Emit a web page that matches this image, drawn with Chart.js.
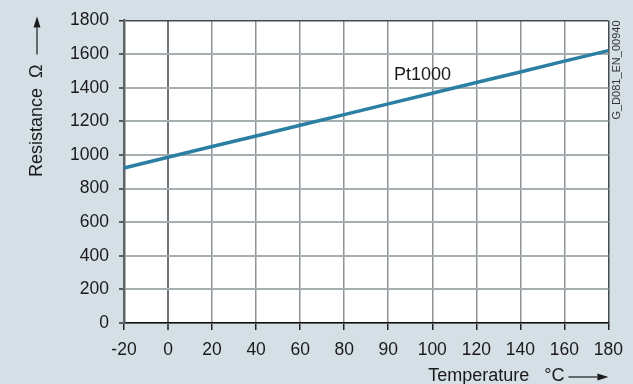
<!DOCTYPE html>
<html>
<head>
<meta charset="utf-8">
<script src="https://cdn.jsdelivr.net/npm/chart.js@4"></script>
<style>
  html, body { margin: 0; padding: 0; background: #d5e0e6; }
</style>
</head>
<body>
<canvas id="ptChart" width="633" height="384"></canvas>
<script>
const tempLabels = ['-20', '0', '20', '40', '60', '80', '90', '100', '120', '140', '160', '180'];
const resistance = [922, 986, 1050, 1113, 1177, 1240, 1304, 1367, 1431, 1494, 1558, 1621];
const yMin = 0;
const yMax = 1800;
const yStep = 200;

const FONT = '"Liberation Sans", Arial, sans-serif';
const TEXT = '#1a1a1a';

function drawArrow(ctx, x1, y1, x2, y2) {
    const ang = Math.atan2(y2 - y1, x2 - x1);
    const len = 11, half = 3.5;
    ctx.beginPath();
    ctx.moveTo(x1, y1);
    ctx.lineTo(x2 - Math.cos(ang) * len, y2 - Math.sin(ang) * len);
    ctx.lineWidth = 1.2;
    ctx.stroke();
    ctx.beginPath();
    ctx.moveTo(x2, y2);
    ctx.lineTo(x2 - Math.cos(ang) * len - Math.sin(ang) * half, y2 - Math.sin(ang) * len + Math.cos(ang) * half);
    ctx.lineTo(x2 - Math.cos(ang) * len + Math.sin(ang) * half, y2 - Math.sin(ang) * len - Math.cos(ang) * half);
    ctx.closePath();
    ctx.fill();
}

// white plot area, labels and arrows
const decor = {
    id: 'decor',
    beforeDraw(chart) {
        const { ctx, chartArea: a } = chart;
        ctx.save();
        ctx.fillStyle = '#ffffff';
        ctx.fillRect(a.left, a.top, a.right - a.left, a.bottom - a.top);
        ctx.restore();
    },
    afterDraw(chart) {
        const { ctx, chartArea: a, scales } = chart;
        ctx.save();
        ctx.fillStyle = TEXT;
        ctx.strokeStyle = TEXT;

        // curve label
        ctx.font = '18px ' + FONT;
        ctx.textAlign = 'center';
        ctx.textBaseline = 'middle';
        ctx.fillText('Pt1000', scales.x.getPixelForValue(6.78), scales.y.getPixelForValue(1475));

        // x axis title
        ctx.textAlign = 'right';
        ctx.fillText('Temperature   °C', a.right - 44, 376);
        drawArrow(ctx, a.right - 40, 377, a.right, 377);

        // y axis title
        drawArrow(ctx, 37, a.top + 34, 37, a.top - 4);
        ctx.save();
        ctx.translate(37, a.top + 44);
        ctx.rotate(-Math.PI / 2);
        ctx.textAlign = 'right';
        ctx.fillText('Resistance  Ω', 0, 0);
        ctx.restore();

        // drawing id
        ctx.save();
        ctx.translate(a.right + 9, a.top);
        ctx.rotate(-Math.PI / 2);
        ctx.font = '11px ' + FONT;
        ctx.fillStyle = '#333';
        ctx.textAlign = 'right';
        ctx.fillText('G_D081_EN_00940', 0, 0);
        ctx.restore();

        ctx.restore();
    }
};

const ctx = document.getElementById('ptChart').getContext('2d');

const chart = new Chart(ctx, {
    type: 'line',
    data: {
        labels: tempLabels,
        datasets: [{
            label: 'Pt1000',
            data: resistance,
            borderColor: '#2a7fa2',
            borderWidth: 3.5,
            pointRadius: 0,
            tension: 0,
            fill: false,
        }],
    },
    options: {
        responsive: false,
        animation: false,
        layout: { padding: { top: 16, right: 24, left: 0, bottom: 0 } },
        plugins: {
            legend: { display: false },
            tooltip: { enabled: false },
        },
        scales: {
            x: {
                type: 'category',
                offset: false,
                afterFit: (scale) => { scale.height = 61; },
                grid: {
                    color: (c) => c.index === 11 ? '#444a4d' : (c.index === 1 ? '#6c7478' : '#8d9498'),
                    lineWidth: (c) => c.index === 1 ? 2 : 1.5,
                    tickLength: 7,
                    tickColor: '#222',
                    tickWidth: 1.5,
                },
                border: { color: '#111', width: 1.5 },
                ticks: {
                    color: TEXT,
                    font: { family: FONT, size: 17.5 },
                    padding: 10,
                    maxRotation: 0,
                    autoSkip: false,
                },
            },
            y: {
                min: yMin,
                max: yMax,
                afterFit: (scale) => { scale.width = 124; },
                grid: {
                    color: (c) => c.index === 9 ? '#444a4d' : '#a7aeb2',
                    lineWidth: (c) => c.index === 9 ? 1.5 : 2,
                    tickLength: 5,
                    tickColor: '#333',
                    tickWidth: 1.5,
                },
                border: { color: '#5d6569', width: 2.5 },
                ticks: {
                    stepSize: yStep,
                    color: TEXT,
                    font: { family: FONT, size: 17.5 },
                    padding: 10,
                    callback: (v) => String(v),
                },
            },
        },
    },
    plugins: [decor],
});
</script>
</body>
</html>
